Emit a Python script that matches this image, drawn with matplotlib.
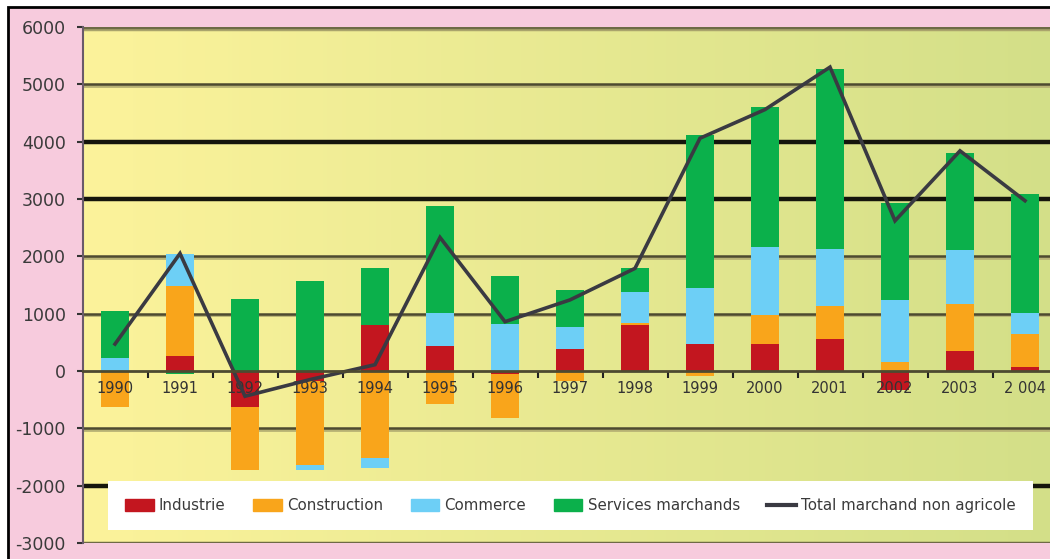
import numpy as np
import matplotlib
matplotlib.use("Agg")
import matplotlib.pyplot as plt
from matplotlib.patches import Rectangle, Patch
from matplotlib.lines import Line2D
from matplotlib.colors import to_rgb

# data
years = ["1990", "1991", "1992", "1993", "1994", "1995", "1996", "1997",
         "1998", "1999", "2000", "2001", "2002", "2003", "2 004"]
industrie = [0, 260, -630, -175, 800, 440, -60, 380, 810, 470, 470, 560, -340, 350, 70]
construction = [-630, 1230, -1100, -1460, -1520, -580, -760, -170, 30, -80, 500, 570, 150, 820, 580]
commerce = [230, 550, 0, -90, -170, 570, 820, 380, 530, 970, 1200, 1000, 1090, 940, 360]
services = [810, -50, 1260, 1570, 1000, 1870, 840, 660, 430, 2680, 2430, 3140, 1690, 1700, 2070]
total = [470, 2050, -440, -150, 110, 2330, 860, 1240, 1790, 4060, 4560, 5300, 2620, 3840, 2970]

series = [("Industrie", industrie, "#c3161f"),
          ("Construction", construction, "#f9a51b"),
          ("Commerce", commerce, "#6dcff6"),
          ("Services marchands", services, "#0bb04b")]
line_label = "Total marchand non agricole"
line_color = "#3a3a42"

y_ticks = [6000, 5000, 4000, 3000, 2000, 1000, 0, -1000, -2000, -3000]
thick_grid = [4000, 3000, -2000]

W, H = 1050, 559
fig = plt.figure(figsize=(W / 100, H / 100), dpi=100, facecolor="white")

# pink frame behind the chart
fig.patches.append(Rectangle((8 / W, -0.1), 1.2, (H - 7) / H + 0.1,
                             transform=fig.transFigure, facecolor="#f7cbdd",
                             edgecolor="black", lw=2, zorder=-10))

ax = fig.add_axes([82.5 / W, 16 / H, 975 / W, 516 / H])
ax.set_facecolor("none")

# horizontal yellow gradient
left_c, right_c = np.array(to_rgb("#fcf39b")), np.array(to_rgb("#d3df88"))
t = np.linspace(0, 1, 256)[None, :, None]
grad = left_c * (1 - t) + right_c * t
ax.imshow(grad, extent=[-0.5, 14.5, -3000, 6000], aspect="auto", zorder=0)

# grid lines
for v in y_ticks:
    if v in thick_grid:
        ax.axhline(v, color="#15150c", lw=3.2, zorder=0.5)
    elif v in (6000, -3000):
        ax.axhline(v - 40, color="#aaa46c", lw=2.5, zorder=0.5)
        ax.axhline(v, color="#6e6a45", lw=2.5, zorder=0.5)
    elif v != 0:
        ax.axhline(v - 30, color="#b7b274", lw=2, zorder=0.5)
        ax.axhline(v, color="#4d4a30", lw=1.8, zorder=0.5)

x = np.arange(len(years))
pos = np.zeros(len(years))
neg = np.zeros(len(years))
for name, vals, col in series:
    v = np.array(vals, dtype=float)
    bottom = np.where(v >= 0, pos, neg)
    ax.bar(x, v, 0.42, bottom=bottom, color=col, zorder=1)
    pos += np.where(v >= 0, v, 0)
    neg += np.where(v < 0, v, 0)

ax.plot(x, total, color=line_color, lw=2.6, zorder=2, solid_joinstyle="miter")

ax.set_xlim(-0.5, 14.5)
ax.set_ylim(-3000, 6000)

for s in ("top", "right"):
    ax.spines[s].set_visible(False)
ax.spines["left"].set_color("#6a5a6a")
ax.spines["left"].set_linewidth(1.5)
ax.spines["bottom"].set_position(("data", 0))
ax.spines["bottom"].set_color("#4d4a30")
ax.spines["bottom"].set_linewidth(2)

ax.set_yticks(y_ticks)
ax.set_yticklabels([str(v) for v in y_ticks], fontsize=12.5, color="#3a3a3a")
ax.tick_params(axis="y", length=4, width=1.5, color="#333333", pad=8)

ax.set_xticks(x)
ax.set_xticklabels(years, fontsize=10.5, color="#333333")
ax.set_xticks(np.arange(0.5, 14.5), minor=True)
ax.tick_params(axis="x", which="major", length=0, pad=7)
ax.tick_params(axis="x", which="minor", length=5, width=1.5, color="#222222")

handles = [Patch(color=c) for _, _, c in series]
handles.append(Line2D([], [], color=line_color, lw=3))
labels = [n for n, _, _ in series] + [line_label]
leg = fig.legend(handles, labels, loc="center", ncol=5, mode="expand",
                 bbox_to_anchor=(108 / W, (H - 533) / H, 925 / W, 55 / H),
                 bbox_transform=fig.transFigure, fontsize=10.8,
                 frameon=True, fancybox=False, facecolor="white",
                 edgecolor="none", framealpha=1, borderpad=1.15,
                 handlelength=1.9, handleheight=0.8, handletextpad=0.35,
                 borderaxespad=0)
for txt in leg.get_texts():
    txt.set_color("#3a3a3a")

fig.savefig("out.png", dpi=100, facecolor="white")
